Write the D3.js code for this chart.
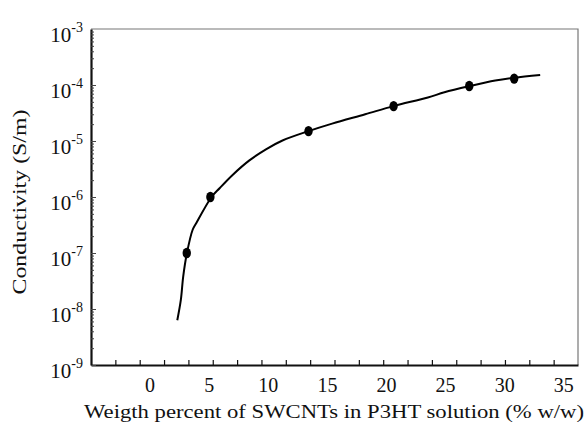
<!DOCTYPE html>
<html>
<head>
<meta charset="utf-8">
<script src="https://cdn.jsdelivr.net/npm/d3@7"></script>
<style>
  body { margin: 0; background: #fff; }
  svg { display: block; }
  text { font-family: "Liberation Serif", "Times New Roman", serif; fill: #111; }
</style>
</head>
<body>
<div class="chart"></div>
<script>
// measured points (markers)
var pointX = [3.1, 5.1, 13.4, 20.6, 27.0, 30.8];
var pointY = [1.0e-7, 1.0e-6, 1.5e-5, 4.2e-5, 9.6e-5, 1.3e-4];

// fitted curve
var curveX = [2.3, 2.6, 2.8, 3.1, 3.6, 3.9, 5.2, 5.9, 7.0, 8.4, 9.8, 11.2, 13.4, 15.4, 18.2, 20.6, 23.5, 24.9, 27.0, 29.2, 30.8, 33.0];
var curveY = [6.3e-9, 1.45e-8, 3.8e-8, 9.6e-8, 2.6e-7, 3.4e-7, 1.0e-6, 1.45e-6, 2.5e-6, 4.5e-6, 7.1e-6, 1.02e-5, 1.5e-5, 2.04e-5, 3.0e-5, 4.2e-5, 6.0e-5, 7.4e-5, 9.5e-5, 1.2e-4, 1.35e-4, 1.51e-4];

var xLabels = [0, 5, 10, 15, 20, 25, 30, 35];
var yExponents = [-9, -8, -7, -6, -5, -4, -3];

var xTitle = 'Weigth percent of SWCNTs in P3HT solution (% w/w)';
var yTitle = 'Conductivity (S/m)';

var width = 587, height = 428;
var plotL = 91, plotR = 578, plotT = 29, plotB = 365;

var svg = d3.select('.chart').append('svg')
  .attr('width', width)
  .attr('height', height);

var x = d3.scaleLinear().domain([-5, 36.2]).range([plotL, plotR]);
var y = d3.scaleLog().domain([1e-9, 1e-3]).range([plotB, plotT]);

// frame: thin grey top/right
svg.append('path')
  .attr('d', 'M' + plotL + ',' + plotT + 'H' + plotR + 'V' + plotB)
  .attr('fill', 'none')
  .attr('stroke', '#777')
  .attr('stroke-width', 1.2);

// x minor ticks, evenly spaced along the axis (20 intervals)
var xDom = x.domain();
var xTicks = d3.range(1, 20).map(function(i) { return xDom[0] + i * (xDom[1] - xDom[0]) / 20; });

var xAxis = svg.append('g')
  .attr('transform', 'translate(0,' + plotB + ')')
  .call(d3.axisBottom(x).tickValues(xTicks).tickSizeInner(-5).tickSizeOuter(0).tickFormat(''));
xAxis.select('.domain').attr('stroke', '#111').attr('stroke-width', 2.2);
xAxis.selectAll('.tick line').attr('stroke', '#111').attr('stroke-width', 1.2);

// y log ticks (minor 2..9 per decade)
var yTicks = [];
yExponents.forEach(function(e) {
  if (e === -3) return;
  for (var k = 1; k < 10; k++) yTicks.push(k * Math.pow(10, e));
});

var yAxis = svg.append('g')
  .attr('transform', 'translate(' + plotL + ',0)')
  .call(d3.axisLeft(y).tickValues(yTicks).tickSizeInner(-3).tickSizeOuter(0).tickFormat(''));
yAxis.select('.domain').attr('stroke', '#111').attr('stroke-width', 2.2);
yAxis.selectAll('.tick line')
  .attr('stroke', '#444')
  .attr('stroke-width', 1)
  .attr('x2', function(d) { return Math.abs(Math.log10(d) - Math.round(Math.log10(d))) < 1e-9 ? 5 : 3; });

// x labels
svg.append('g').selectAll('text')
  .data(xLabels)
  .enter().append('text')
  .attr('x', function(d) { return x(d); })
  .attr('y', 392)
  .attr('text-anchor', 'middle')
  .attr('font-size', 20)
  .text(function(d) { return d; });

// y labels: 10 with superscript exponent
var yl = svg.append('g').selectAll('text')
  .data(yExponents)
  .enter().append('text')
  .attr('x', 83)
  .attr('y', function(d) { return y(Math.pow(10, d)) + 13; })
  .attr('text-anchor', 'end')
  .attr('font-size', 21);
yl.append('tspan').text('10');
yl.append('tspan')
  .attr('dy', -10)
  .attr('font-size', 14)
  .text(function(d) { return '-' + Math.abs(d); });

// curve
var curve = curveX.map(function(v, i) { return [v, curveY[i]]; });
svg.append('path')
  .datum(curve)
  .attr('fill', 'none')
  .attr('stroke', '#000')
  .attr('stroke-width', 2)
  .attr('d', d3.line()
    .x(function(d) { return x(d[0]); })
    .y(function(d) { return y(d[1]); })
    .curve(d3.curveCatmullRom.alpha(0.5)));

// markers
svg.append('g').selectAll('ellipse')
  .data(pointX)
  .enter().append('ellipse')
  .attr('cx', function(d) { return x(d); })
  .attr('cy', function(d, i) { return y(pointY[i]); })
  .attr('rx', 4.2)
  .attr('ry', 5.2)
  .attr('fill', '#000');

// titles (the source figure is stretched sideways)
svg.append('text')
  .attr('x', 334)
  .attr('y', 418)
  .attr('text-anchor', 'middle')
  .attr('font-size', 19)
  .attr('textLength', 500)
  .attr('lengthAdjust', 'spacingAndGlyphs')
  .text(xTitle);

svg.append('text')
  .attr('transform', 'translate(26,202) rotate(-90)')
  .attr('text-anchor', 'middle')
  .attr('font-size', 19)
  .attr('textLength', 185)
  .attr('lengthAdjust', 'spacingAndGlyphs')
  .text(yTitle);
</script>
</body>
</html>
